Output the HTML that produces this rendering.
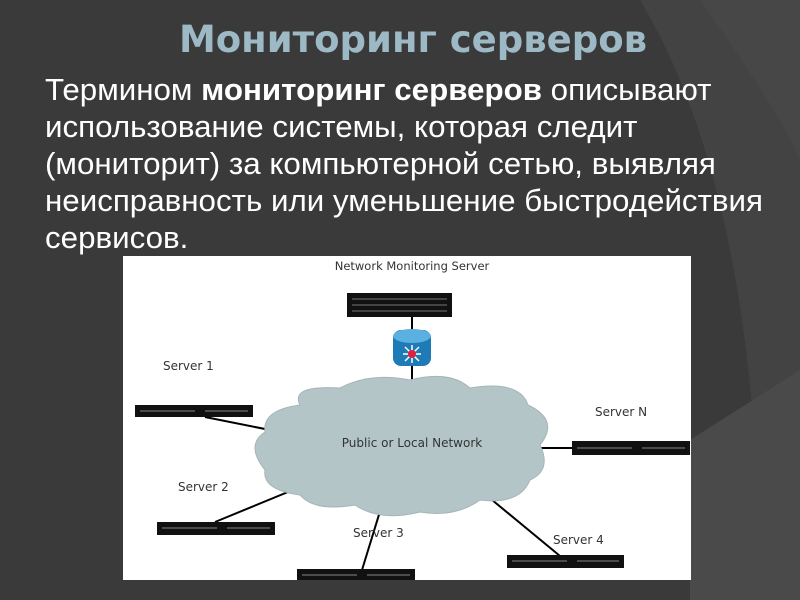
<!DOCTYPE html>
<html><head><meta charset="utf-8"><style>
html,body{margin:0;padding:0;width:800px;height:600px;overflow:hidden;background:#3a3a3a}
.t{position:absolute;left:0;width:826px;top:18px;text-align:center;font:bold 37px "DejaVu Sans","Liberation Sans",sans-serif;color:#9cb9c5}
.p{position:absolute;left:45px;top:71px;width:800px;font:31px/37px "Liberation Sans",sans-serif;color:#fff;white-space:nowrap;transform-origin:0 0;transform:scaleX(1.01)}
svg{position:absolute;left:0;top:0}
</style></head><body>
<svg width="800" height="600">
<path d="M640 0 Q760 200 760 600 L800 600 L800 0 Z" fill="#434343"/>
<path d="M700 0 Q785 120 800 160 L800 0 Z" fill="#474747"/>
<path d="M690 440 L800 370 L800 600 L690 600 Z" fill="#4a4a4a"/>
<rect x="123" y="256" width="568" height="324" fill="#fff"/>
<g stroke="#000" stroke-width="2">
<line x1="412" y1="317" x2="412" y2="330"/>
<line x1="412" y1="365" x2="412" y2="390"/>
<line x1="205" y1="417" x2="280" y2="432"/>
<line x1="540" y1="448" x2="574" y2="448"/>
<line x1="215" y1="522" x2="305" y2="485"/>
<line x1="362" y1="570" x2="385" y2="495"/>
<line x1="560" y1="556" x2="480" y2="490"/>
</g>
<path d="M300 405 Q290 385 340 388 Q370 372 410 380 Q450 370 470 388 Q520 380 528 405 Q560 420 540 445 Q552 470 530 480 Q520 505 480 500 Q455 518 420 512 Q380 522 355 505 Q315 512 300 495 Q262 490 265 470 Q245 445 265 432 Q262 410 300 405 Z" fill="#b4c5c8" stroke="#a3b5b8" stroke-width="1"/>
<g font-family="DejaVu Sans, Liberation Sans, sans-serif" font-size="12" fill="#333">
<text x="412" y="270" text-anchor="middle" font-size="11.5">Network Monitoring Server</text>
<text x="412" y="447" text-anchor="middle">Public or Local Network</text>
<text x="163" y="370">Server 1</text>
<text x="595" y="416">Server N</text>
<text x="178" y="491">Server 2</text>
<text x="353" y="537">Server 3</text>
<text x="553" y="544">Server 4</text>
</g>
<rect x="347" y="293" width="105" height="24" fill="#111"/>
<g stroke="#777" stroke-width="1"><line x1="352" y1="299" x2="447" y2="299"/><line x1="352" y1="305" x2="447" y2="305"/><line x1="352" y1="311" x2="447" y2="311"/></g>
<rect x="393" y="330" width="38" height="36" rx="8" fill="#1f7bb6"/>
<ellipse cx="412" cy="336" rx="19" ry="7" fill="#5ab0e0"/>
<g stroke="#fff" stroke-width="1.5"><line x1="403" y1="354" x2="421" y2="354"/><line x1="412" y1="345" x2="412" y2="363"/><line x1="405" y1="347" x2="419" y2="361"/><line x1="419" y1="347" x2="405" y2="361"/></g>
<circle cx="412" cy="354" r="4" fill="#e0213a"/>
<g fill="#111">
<rect x="135" y="405" width="118" height="12"/>
<rect x="572" y="441" width="118" height="14"/>
<rect x="157" y="522" width="118" height="13"/>
<rect x="297" y="569" width="118" height="11"/>
<rect x="507" y="555" width="117" height="13"/>
</g>
<g stroke="#888" stroke-width="1">
<line x1="140" y1="411" x2="195" y2="411"/><line x1="205" y1="411" x2="248" y2="411"/>
<line x1="577" y1="448" x2="632" y2="448"/><line x1="642" y1="448" x2="685" y2="448"/>
<line x1="162" y1="528" x2="217" y2="528"/><line x1="227" y1="528" x2="270" y2="528"/>
<line x1="302" y1="575" x2="357" y2="575"/><line x1="367" y1="575" x2="410" y2="575"/>
<line x1="512" y1="561" x2="567" y2="561"/><line x1="577" y1="561" x2="619" y2="561"/>
</g>
</svg>
<div class="t">Мониторинг серверов</div>
<div class="p">Термином <b>мониторинг серверов</b> описывают<br>использование системы, которая следит<br>(мониторит) за компьютерной сетью, выявляя<br>неисправность или уменьшение быстродействия<br>сервисов.</div>
</body></html>
